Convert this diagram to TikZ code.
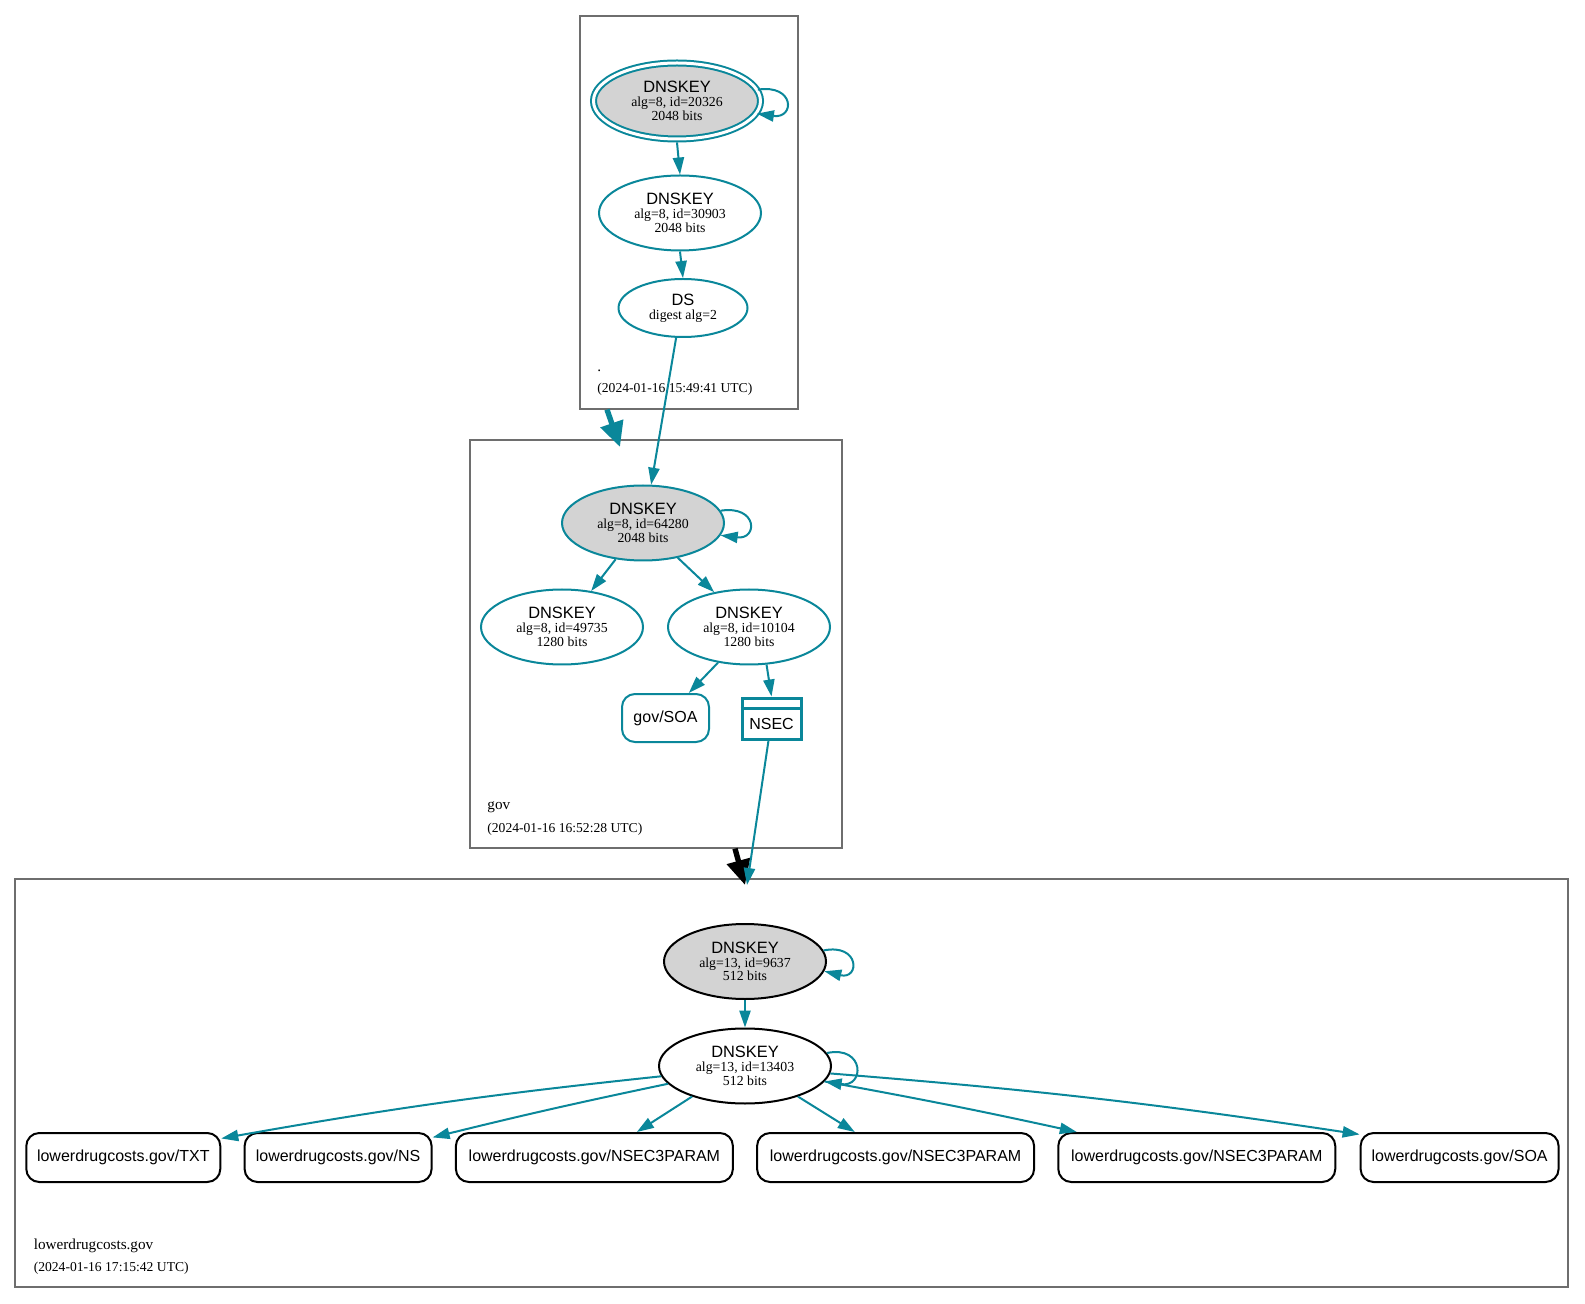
\documentclass[tikz,border=0pt]{standalone}
\usepackage{fontspec}
\setmainfont{Liberation Serif}
\setsansfont{Liberation Sans}
\usetikzlibrary{shapes.geometric,arrows.meta}
\definecolor{sec}{HTML}{0A879A}
\definecolor{keyfill}{HTML}{D3D3D3}
\definecolor{clgray}{HTML}{6E6E6E}
\newcommand{\ktitle}[1]{{\sffamily\fontsize{8.2}{8}\selectfont #1}\\[0.3pt]}
\begin{document}
\begin{tikzpicture}[x=0.5pt,y=-0.5pt,
  cluster/.style={draw=clgray, line width=0.6pt, rectangle, inner sep=0pt},
  key/.style={ellipse, draw=sec, line width=1pt, inner sep=0pt, align=center,
    font=\fontsize{6.9}{6.7}\selectfont},
  rec/.style={draw, rounded corners=6.5pt, line width=1pt, minimum height=24.5pt,
    inner sep=0pt, font=\sffamily\fontsize{8}{9}\selectfont},
  edge/.style={draw=sec, line width=1pt, -{Triangle[length=8.5pt,width=5.6pt]}},
  thickedge/.style={line width=2.7pt, -{Triangle[length=12.5pt,width=11.5pt]}},
  clname/.style={anchor=base west, inner sep=0pt, font=\fontsize{7.6}{8}\selectfont},
  cldate/.style={anchor=base west, inner sep=0pt, font=\fontsize{6.8}{8}\selectfont}
]
\useasboundingbox (0,0) rectangle (1585,1304);

% clusters
\node[cluster, minimum width=109pt, minimum height=196.5pt] (clroot) at (689,212.5) {};
\node[cluster, minimum width=186pt, minimum height=204pt] (clgov) at (656,644) {};
\node[cluster, minimum width=776.5pt, minimum height=204pt] (clldc) at (791.5,1083) {};

\node[clname] (rootname) at (597,372) {.};
\node[cldate] (rootdate) at (597,393) {(2024-01-16 15:49:41 UTC)};
\node[clname] (govname) at (487,809.5) {gov};
\node[cldate] (govdate) at (487,832) {(2024-01-16 16:52:28 UTC)};
\node[clname] (ldcname) at (33.4,1249) {lowerdrugcosts.gov};
\node[cldate] (ldcdate) at (33.4,1271) {(2024-01-16 17:15:42 UTC)};

% root zone
\node[key, fill=keyfill, double=white, double distance=1.5pt, minimum width=83.5pt, minimum height=38pt]
  (k20326) at (677,101) {\ktitle{DNSKEY}alg=8, id=20326\\2048 bits};
\node[key, minimum width=81pt, minimum height=37.5pt]
  (k30903) at (680,213) {\ktitle{DNSKEY}alg=8, id=30903\\2048 bits};
\node[key, minimum width=64.5pt, minimum height=29pt]
  (ds) at (683,308) {\ktitle{DS}digest alg=2};

% gov zone
\node[key, fill=keyfill, minimum width=81pt, minimum height=37.5pt]
  (k64280) at (643,523) {\ktitle{DNSKEY}alg=8, id=64280\\2048 bits};
\node[key, minimum width=81pt, minimum height=37.5pt]
  (k49735) at (562,627) {\ktitle{DNSKEY}alg=8, id=49735\\1280 bits};
\node[key, minimum width=81pt, minimum height=37.5pt]
  (k10104) at (749,627) {\ktitle{DNSKEY}alg=8, id=10104\\1280 bits};
\node[rec, draw=sec, minimum width=43.5pt, minimum height=24pt] (govsoa) at (665.5,718) {gov/SOA};
\node[draw=sec, line width=1.5pt, rectangle, minimum width=29.5pt, minimum height=20.5pt, inner sep=0pt]
  (nsec) at (771.5,718.5) {};
\draw[sec, line width=1.5pt] ([yshift=-6pt]nsec.north west) -- ([yshift=-6pt]nsec.north east);
\node[inner sep=0pt, font=\sffamily\fontsize{8}{9}\selectfont] (nsectext) at (771.5,724) {NSEC};

% lowerdrugcosts.gov zone
\node[key, draw=black, fill=keyfill, minimum width=81pt, minimum height=37.5pt]
  (k9637) at (745,961.5) {\ktitle{DNSKEY}alg=13, id=9637\\512 bits};
\node[key, draw=black, minimum width=86pt, minimum height=37.5pt]
  (k13403) at (745,1066) {\ktitle{DNSKEY}alg=13, id=13403\\512 bits};

\node[rec, minimum width=97pt] (rtxt) at (123.3,1157.5) {lowerdrugcosts.gov/TXT};
\node[rec, minimum width=93.5pt] (rns) at (338.1,1157.5) {lowerdrugcosts.gov/NS};
\node[rec, minimum width=138.5pt] (rp1) at (594.4,1157.5) {lowerdrugcosts.gov/NSEC3PARAM};
\node[rec, minimum width=138.5pt] (rp2) at (895.6,1157.5) {lowerdrugcosts.gov/NSEC3PARAM};
\node[rec, minimum width=138.5pt] (rp3) at (1196.8,1157.5) {lowerdrugcosts.gov/NSEC3PARAM};
\node[rec, minimum width=99pt] (rsoa) at (1459.6,1157.5) {lowerdrugcosts.gov/SOA};

% delegation arrows
\coordinate (govin) at (620,447);
\draw[thickedge, sec] ([xshift=-41pt]clroot.south) -- (govin);
\coordinate (ldcin) at (745,885);
\draw[thickedge, black] ([xshift=39.5pt]clgov.south) -- (ldcin);
\coordinate (nsecin) at (747,885);

% edges root
\draw[edge] ([yshift=-1.2pt]k20326.south) -- (k30903.north);
\draw[edge] (k20326.8) .. controls (795,84) and (795,119) .. (k20326.-9);
\draw[edge] (k30903.south) -- (ds.north);
\draw[edge] (ds.-103) -- (k64280.78);

% edges gov
\draw[edge] (k64280.9) .. controls (758,505) and (758,540) .. (k64280.-9);
\draw[edge] (k64280.-127.6) -- (k49735.51.3);
\draw[edge] (k64280.-45) -- (k10104.135);
\draw[edge] (k10104.-131.6) -- (govsoa.47);
\draw[edge] (k10104.-65.9) -- (nsec.north);
\draw[edge] ([xshift=-1.5pt]nsec.south) -- (nsecin);

% edges lowerdrugcosts.gov
\draw[edge] (k9637.8.6) .. controls (860,943) and (860,980) .. (k9637.-7.5);
\draw[edge] (k9637.south) -- (k13403.north);
\draw[edge] (k13403.9.4) .. controls (865,1045) and (865,1088) .. (k13403.-11.7);
\draw[edge] (k13403.-173.7) to[bend right=2] (rtxt.11.9);
\draw[edge] (k13403.-167.9) to[bend right=1] (rns.12.9);
\draw[edge] (k13403.-150.1) -- (rp1.31.9);
\draw[edge] (k13403.-30.5) -- (rp2.148.3);
\draw[edge] (k13403.-11.9) to[bend left=1] (rp3.168.8);
\draw[edge] (k13403.-5.6) to[bend left=2] (rsoa.167.3);
\end{tikzpicture}
\end{document}
